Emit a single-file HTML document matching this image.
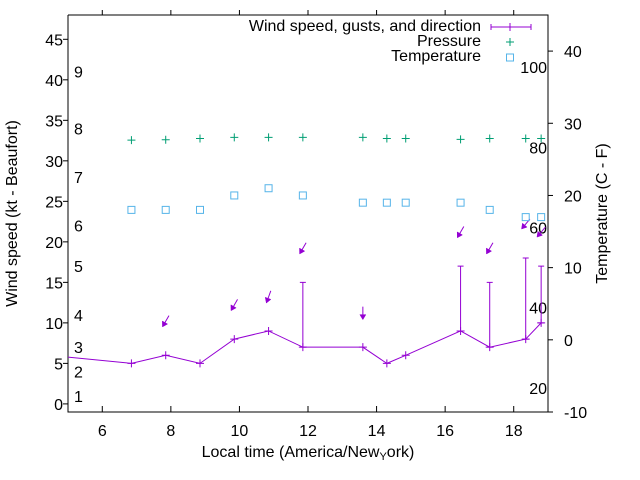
<!DOCTYPE html>
<html><head><meta charset="utf-8"><style>
body{margin:0;background:#fff}
svg{display:block;font-family:"Liberation Sans",sans-serif;font-size:16px}
</style></head><body>
<svg id="chart" width="640" height="480" viewBox="0 0 640 480" xmlns="http://www.w3.org/2000/svg"></svg>
<script>
const times=[6.85,7.85,8.85,9.85,10.85,11.85,13.6,14.3,14.85,16.45,17.3,18.35,18.8];
const wind=[5,6,5,8,9,7,7,5,6,9,7,8,10];
const gust=[null,null,null,null,null,15,null,null,null,17,15,18,17];
const dirDeg=[null,30,null,30,20,30,0,null,null,30,30,40,40];
const pressure=[32.55,32.6,32.75,32.9,32.9,32.9,32.9,32.75,32.75,32.65,32.75,32.75,32.75];
const temperature=[18,18,18,20,21,20,19,19,19,19,18,17,17];
const leadTime=[4.0], leadWind=[6.2];
const xTicks=[6,8,10,12,14,16,18];
const yTicks=[0,5,10,15,20,25,30,35,40,45];
const y2Ticks=[-10,0,10,20,30,40];
const beaufortLabels=["1","2","3","4","5","6","7","8","9"];
const beaufortSpeeds=[1,4,7,11,17,22,28,34,41];
const fahrLabels=["20","40","60","80","100"];

const L=68,R=548,T=15,B=412;
const X=t=>L+(t-5)/(19-5)*(R-L);
const Y=v=>B-(v+1)/(48+1)*(B-T);
const Y2=c=>B-(c+10)/(45+10)*(B-T);
const svg=document.getElementById('chart');
const NS='http://www.w3.org/2000/svg';
function mk(tag,attrs,parent){const e=document.createElementNS(NS,tag);for(const k in attrs)e.setAttribute(k,attrs[k]);(parent||svg).appendChild(e);return e;}
const W='#9400d3',P='#009e73',TC='#56b4e9';

const defs=mk('defs',{});const cp=mk('clipPath',{id:'c'},defs);mk('rect',{x:L,y:T,width:R-L,height:B-T},cp);

const frame=mk('path',{d:`M${L},${T}V${B}H${R}V${T}H${L}`,fill:'none',stroke:'#000','stroke-width':1});


xTicks.forEach(t=>{const x=X(t);
 mk('line',{x1:x,y1:B,x2:x,y2:B-6,stroke:'#000'});mk('line',{x1:x,y1:T,x2:x,y2:T-5,stroke:'#000'});
 const tx=mk('text',{x:x,y:B+24,'text-anchor':'middle'});tx.textContent=t;
 });
yTicks.forEach(v=>{const y=Y(v);
 mk('line',{x1:L-5,y1:y,x2:L,y2:y,stroke:'#000'});
 const tx=mk('text',{x:L-5,y:y+6,'text-anchor':'end'});tx.textContent=v;
 });
y2Ticks.forEach(v=>{const y=Y2(v);
 mk('line',{x1:R,y1:y,x2:R+5,y2:y,stroke:'#000'});
 const tx=mk('text',{x:R+16,y:y+6,'text-anchor':'start'});tx.textContent=v;
 });
beaufortSpeeds.forEach((s,i)=>{const tx=mk('text',{x:74,y:Y(s)+6});tx.textContent=beaufortLabels[i];
 });
fahrLabels.forEach(f=>{const c=(parseFloat(f)-32)*5/9;const tx=mk('text',{x:547,y:Y2(c)+6,'text-anchor':'end'});tx.textContent=f;
 });

let t1=mk('text',{x:308,y:457,'text-anchor':'middle'});
t1.textContent='Local time (America/New';const sub=mk('tspan',{'font-size':'11','dy':'3'},t1);sub.textContent='Y';const rest=mk('tspan',{'dy':'-3'},t1);rest.textContent='ork)';

let t2=mk('text',{x:0,y:0,'text-anchor':'middle',transform:`translate(17,${(T+B)/2}) rotate(-90)`});t2.textContent='Wind speed (kt - Beaufort)';

let t3=mk('text',{x:0,y:0,'text-anchor':'middle',transform:`translate(607,${(T+B)/2}) rotate(-90)`});t3.textContent='Temperature (C - F)';


const g=mk('g',{'clip-path':'url(#c)'});
let pts=[[X(leadTime[0]),Y(leadWind[0])]].concat(times.map((t,i)=>[X(t),Y(wind[i])]));
const wl=mk('polyline',{points:pts.map(p=>p.join(',')).join(' '),fill:'none',stroke:W,'stroke-width':1},g);

times.forEach((t,i)=>{const x=X(t),y=Y(wind[i]);
 const m=mk('path',{d:`M${x-4},${y}H${x+4}M${x},${y-4}V${y+4}`,stroke:W},g);
 
 let top=wind[i];
 if(gust[i]!=null){top=gust[i];const gy=Y(gust[i]);
  const e=mk('path',{d:`M${x},${y}V${gy}M${x-3},${gy}H${x+3}M${x-3},${y}H${x+3}`,stroke:W},g);
  }
 if(dirDeg[i]!=null){const cy=Y(top+4.2),a=dirDeg[i]*Math.PI/180,len=13;
  const dx=-Math.sin(a)*len, dy=Math.cos(a)*len;
  const x0=x-dx/2,y0=cy-dy/2,x1=x+dx/2,y1=cy+dy/2;
  const ux=dx/len,uy=dy/len,h=5,w=3;
  const bx=x1-ux*h,by=y1-uy*h;
  const ar=mk('g',{},g);
  
  mk('line',{x1:x0,y1:y0,x2:bx,y2:by,stroke:W},ar);
  mk('polygon',{points:`${x1},${y1} ${bx-uy*w},${by+ux*w} ${bx+uy*w},${by-ux*w}`,fill:W,stroke:W,'stroke-width':0.5},ar);}
});
times.forEach((t,i)=>{const x=X(t),y=Y(pressure[i]);
 const m=mk('path',{d:`M${x-4},${y}H${x+4}M${x},${y-4}V${y+4}`,stroke:P},g);
 
 const y2=Y2(temperature[i]);
 const s=mk('rect',{x:x-3.5,y:y2-3.5,width:7,height:7,fill:'none',stroke:TC},g);
 });

const lg=mk('g',{});
[['Wind speed, gusts, and direction',31],['Pressure',46],['Temperature',61]].forEach(([s,y])=>{const tx=mk('text',{x:481,y:y,'text-anchor':'end'},lg);tx.textContent=s;
 });
mk('path',{d:'M491,27H531M491,24V30M531,24V30M510,23V31',stroke:W},lg);
mk('path',{d:'M506,42H514M510,38V46',stroke:P},lg);
mk('rect',{x:506.5,y:54,width:7,height:7,fill:'none',stroke:TC},lg);
</script>
</body></html>
